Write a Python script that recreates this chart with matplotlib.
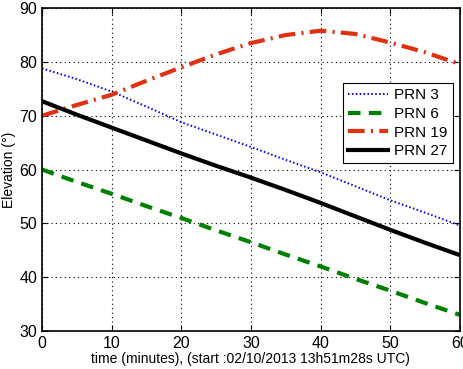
import matplotlib
matplotlib.use("Agg")
import matplotlib.pyplot as plt
import numpy as np

plt.rcParams['font.family'] = ['Liberation Sans', 'DejaVu Sans']

# 時刻 (分)
t = [0, 5, 10, 15, 20, 25, 30, 35, 40, 45, 50, 55, 60]
# 仰角 (度)
prn3 = [78.8, 76.8, 74.5, 71.7, 68.8, 66.5, 64.2, 61.8, 59.5, 56.9, 54.3, 52.0, 49.6]
prn6 = [60.0, 57.7, 55.5, 53.2, 51.0, 48.7, 46.5, 44.2, 42.0, 39.7, 37.5, 35.2, 33.0]
prn19 = [70.0, 72.0, 73.9, 76.5, 79.0, 81.4, 83.5, 85.0, 85.8, 85.2, 83.6, 81.8, 79.6]
prn27 = [72.7, 70.2, 67.8, 65.4, 63.0, 60.7, 58.5, 56.2, 53.8, 51.3, 48.8, 46.4, 44.1]

fig = plt.figure(figsize=(4.64, 3.69), dpi=100)
ax = fig.add_axes([0.0905, 0.103, 0.9005, 0.875])

ax.plot(t, prn3, color='blue', linestyle=(0, (0.8, 1.2)), linewidth=1.4, label='PRN 3')
ax.plot(t, prn6, color='green', linestyle='--', linewidth=3, label='PRN 6', dashes=(3, 2))
ax.plot(t, prn19, color='#e03010', linestyle='-.', linewidth=3, label='PRN 19', dashes=(4, 1.5, 0.5, 1.5))
ax.plot(t, prn27, color='black', linestyle='-', linewidth=3, label='PRN 27')

ax.set_xlim(0, 60)
ax.set_ylim(30, 90)
ax.set_xticks(np.arange(0, 61, 10))
ax.set_yticks(np.arange(30, 91, 10))
ax.tick_params(direction='in', top=True, right=True, labelsize=11.5, length=4)
ax.grid(True, color='black', linestyle=(0, (1, 3)), linewidth=0.8)
for s in ax.spines.values():
    s.set_linewidth(1.2)

ax.set_xlabel('time (minutes), (start :02/10/2013 13h51m28s UTC)', fontsize=10, labelpad=1)
ax.set_ylabel('Elevation (°)', fontsize=10, labelpad=2)

leg = ax.legend(loc='upper right', bbox_to_anchor=(0.983, 0.768), borderaxespad=0,
                fontsize=11, fancybox=False, framealpha=1, edgecolor='black',
                handlelength=2.6, borderpad=0.35, labelspacing=0.3, handletextpad=0.4)
leg.get_frame().set_linewidth(0.8)

fig.savefig('out.png', dpi=100)
